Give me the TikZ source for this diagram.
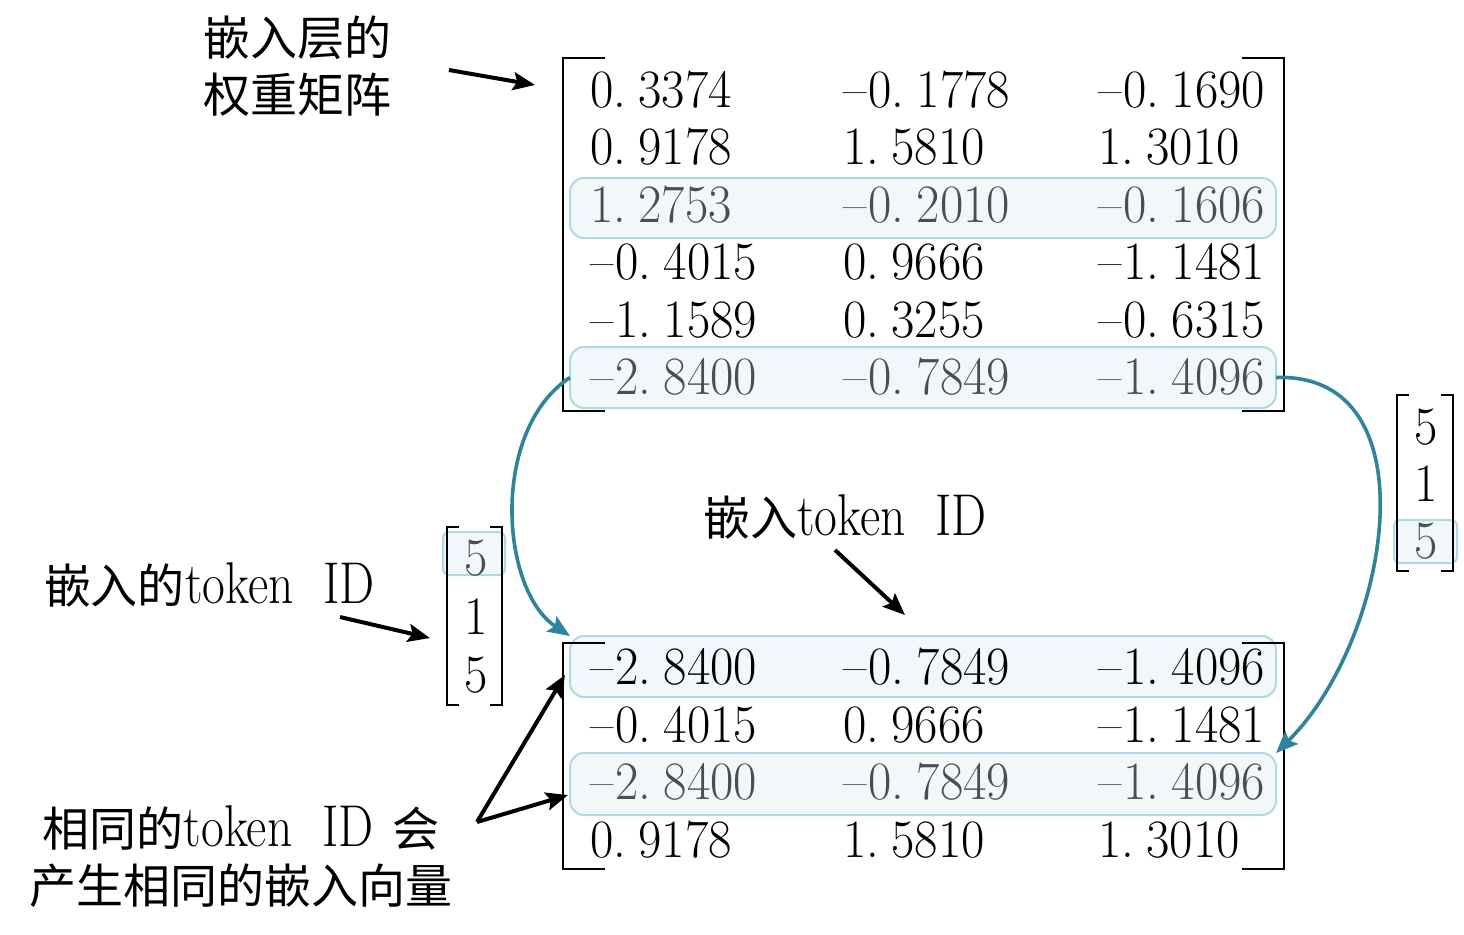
\documentclass[tikz,border=0pt]{standalone}
\usepackage{fontspec}
\usepackage{graphicx}
\newfontfamily\cjk{Noto Sans CJK SC}
\usetikzlibrary{arrows.meta,fit}
\definecolor{hlfill}{RGB}{242,247,250}
\definecolor{hlline}{RGB}{172,217,226}
\definecolor{tealc}{RGB}{46,132,156}
\definecolor{graytxt}{RGB}{72,78,86}
\newcommand\nm[1]{\scalebox{0.94}[1]{\fontsize{27}{30}\selectfont #1}}
\newcommand\lt[1]{\scalebox{0.84}[1]{\normalfont\fontsize{29.5}{30}\selectfont #1}}
\newcommand\g{\hspace{0.25em}}
\newcommand\mn{\textendash\hspace{0.04em}}
\tikzset{
  num/.style={anchor=west,inner sep=0pt,outer sep=0pt},
  vnum/.style={inner sep=0pt,outer sep=0pt},
  hl/.style={draw=hlline,fill=hlfill,line width=1pt,rounded corners=7pt,inner sep=0pt,outer sep=0pt},
  hls/.style={hl,rounded corners=3pt},
  brk/.style={line width=1pt,black},
  lbl/.style={inner sep=0pt,outer sep=0pt,font=\cjk\fontsize{23.5}{28.5}\selectfont},
  blk/.style={line width=2pt,-{Stealth[length=11pt,width=9pt,inset=2pt]}},
  tl/.style={line width=1.8pt,tealc,-{Stealth[length=11pt,width=9pt,inset=2pt]}}
}
\begin{document}
\begin{tikzpicture}[x=0.5pt,y=-0.5pt]
\useasboundingbox (0,0) rectangle (1464,934);
% highlight boxes
\node[hl,fit={(570,178) (1276,238)}] (hlA) {};
\node[hl,fit={(570,347) (1276,408)}] (hlB) {};
\node[hl,fit={(570,636) (1276,697)}] (hlC) {};
\node[hl,fit={(570,753) (1276,815)}] (hlD) {};
\node[hls,fit={(443,532) (505,575)}] (hlE) {};
\node[hls,fit={(1394,520) (1457,563)}] (hlF) {};
% top matrix
\foreach \r/\y/\cl/\A/\B/\C in {
  1/90/black/{0.\g3374}/{\mn0.\g1778}/{\mn0.\g1690},
  2/147/black/{0.\g9178}/{1.\g5810}/{1.\g3010},
  3/205/graytxt/{1.\g2753}/{\mn0.\g2010}/{\mn0.\g1606},
  4/262/black/{\mn0.\g4015}/{0.\g9666}/{\mn1.\g1481},
  5/320/black/{\mn1.\g1589}/{0.\g3255}/{\mn0.\g6315},
  6/377/graytxt/{\mn2.\g8400}/{\mn0.\g7849}/{\mn1.\g4096}}{
  \node[num,text=\cl] (ta\r) at (590,\y) {\nm{\A}};
  \node[num,text=\cl] (tb\r) at (843,\y) {\nm{\B}};
  \node[num,text=\cl] (tc\r) at (1098,\y) {\nm{\C}};
}
% bottom matrix
\foreach \r/\y/\cl/\A/\B/\C in {
  1/667/black/{\mn2.\g8400}/{\mn0.\g7849}/{\mn1.\g4096},
  2/725/black/{\mn0.\g4015}/{0.\g9666}/{\mn1.\g1481},
  3/782/graytxt/{\mn2.\g8400}/{\mn0.\g7849}/{\mn1.\g4096},
  4/840/black/{0.\g9178}/{1.\g5810}/{1.\g3010}}{
  \node[num,text=\cl] (ba\r) at (590,\y) {\nm{\A}};
  \node[num,text=\cl] (bb\r) at (843,\y) {\nm{\B}};
  \node[num,text=\cl] (bc\r) at (1098,\y) {\nm{\C}};
}
% vectors
\node[vnum,text=graytxt] (va1) at (476,558) {\nm{5}};
\node[vnum] (va2) at (476,617) {\nm{1}};
\node[vnum] (va3) at (476,675) {\nm{5}};
\node[vnum] (vb1) at (1426,427) {\nm{5}};
\node[vnum] (vb2) at (1426,484) {\nm{1}};
\node[vnum,text=graytxt] (vb3) at (1426,541) {\nm{5}};
% brackets
\draw[brk] (605,58) -- (563,58) -- (563,411) -- (605,411);
\draw[brk] (1242,58) -- (1284,58) -- (1284,411) -- (1242,411);
\draw[brk] (605,643) -- (563,643) -- (563,869) -- (605,869);
\draw[brk] (1242,643) -- (1284,643) -- (1284,869) -- (1242,869);
\draw[brk] (459,527) -- (447,527) -- (447,705) -- (459,705);
\draw[brk] (490,527) -- (502,527) -- (502,705) -- (490,705);
\draw[brk] (1409,395) -- (1397,395) -- (1397,571) -- (1409,571);
\draw[brk] (1441,395) -- (1453,395) -- (1453,571) -- (1441,571);
% labels
\node[lbl,align=left,anchor=west] (wlab) at (203,66) {嵌入层的\\权重矩阵};
\node[lbl,anchor=west] (elab) at (703,517) {嵌入\lt{token\hspace{0.6em}ID}};
\node[lbl,anchor=west] (ilab) at (44,585) {嵌入的\lt{token\hspace{0.6em}ID}};
\node[lbl,align=center] (slab) at (241,857) {相同的\lt{token\hspace{0.6em}ID}\hspace{0.4em}会\\产生相同的嵌入向量};
% arrow end points
\coordinate (w1) at (449,70);  \coordinate (w2) at (535,85);
\coordinate (e1) at (835,550); \coordinate (e2) at (905,615);
\coordinate (i1) at (340,617); \coordinate (i2) at (430,638);
\coordinate (s0) at (477,822);
\coordinate (s1) at (565,675); \coordinate (s2) at (568,795);
\draw[blk] (w1) -- (w2);
\draw[blk] (e1) -- (e2);
\draw[blk] (i1) -- (i2);
\draw[blk] (s0) -- (s1);
\draw[blk] (s0) -- (s2);
% teal curved arrows
\draw[tl] (hlB.west) .. controls (490,430) and (500,590) .. (hlC.north west);
\draw[tl] (hlB.east) .. controls (1435,372) and (1390,640) .. (hlD.north east);
\end{tikzpicture}
\end{document}
